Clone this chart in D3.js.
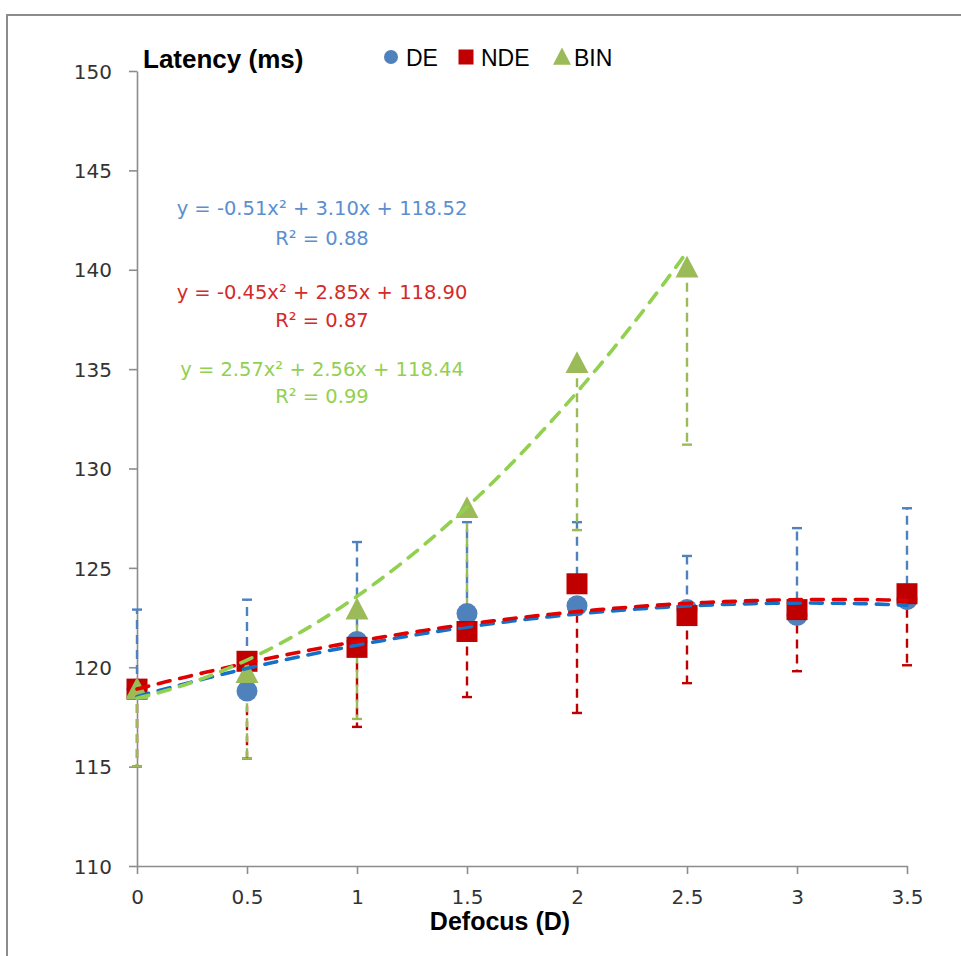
<!DOCTYPE html>
<html>
<head>
<meta charset="utf-8">
<script src="https://cdn.jsdelivr.net/npm/d3@7"></script>
<style>
  html, body { margin: 0; padding: 0; background: #fff; }
  svg { display: block; }
</style>
</head>
<body>
<svg id="chart" width="961" height="956"></svg>
<script>
// Defocus levels (D)
const defocus = [0, 0.5, 1, 1.5, 2, 2.5, 3, 3.5];

// Mean latency (ms) per condition
const deMean  = [118.9, 118.8, 121.3, 122.7, 123.1, 122.9, 122.6, 123.4];
const ndeMean = [118.9, 120.3, 121.0, 121.8, 124.2, 122.6, 122.9, 123.7];
const binMean = [118.9, 119.7, 122.9, 128.0, 135.3, 140.1];

// One-sided error bars (ms): DE upward, NDE and BIN downward
const deErr  = [4.0, 4.6, 5.0, 4.6, 4.2, 2.7, 4.4, 4.6];
const ndeErr = [3.9, 4.9, 4.0, 3.3, 6.5, 3.4, 3.1, 3.6];
const binErr = [3.9, 4.3, 5.5, 5.7, 8.4, 8.9];

// Quadratic fits: [a, b, c] for y = a x^2 + b x + c, and R^2
const deFit  = [-0.51, 3.10, 118.52];
const ndeFit = [-0.45, 2.85, 118.90];
const binFit = [2.57, 2.56, 118.44];
const rSquared = [0.88, 0.87, 0.99];

const seriesNames = ["DE", "NDE", "BIN"];
const yTicks = [110, 115, 120, 125, 130, 135, 140, 145, 150];
const xTicks = [0, 0.5, 1, 1.5, 2, 2.5, 3, 3.5];

const svg = d3.select("#chart");

// outer chart frame
svg.append("rect")
  .attr("x", 7).attr("y", 15)
  .attr("width", 1000).attr("height", 1000)
  .attr("fill", "none").attr("stroke", "#8c8c8c").attr("stroke-width", 2);

const x = d3.scaleLinear().domain([0, 3.5]).range([137, 907]);
const y = d3.scaleLinear().domain([110, 150]).range([866, 71]);

const tickFont = "'DejaVu Sans', sans-serif";

// y axis
const gy = svg.append("g")
  .attr("transform", "translate(137,0)")
  .call(d3.axisLeft(y).tickValues(yTicks).tickSize(8).tickSizeOuter(0).tickPadding(17).tickFormat(d => String(d)));
gy.select(".domain").attr("stroke", "#8c8c8c").attr("stroke-width", 1.6);
gy.selectAll(".tick line").attr("stroke", "#8c8c8c").attr("stroke-width", 1.6);
gy.selectAll(".tick text")
  .attr("font-family", tickFont).attr("font-size", 20).attr("fill", "#333")
  .attr("dy", "0.36em");

// x axis
const gx = svg.append("g")
  .attr("transform", "translate(0,866)")
  .call(d3.axisBottom(x).tickValues(xTicks).tickSize(8).tickSizeOuter(0).tickFormat(d => String(d)));
gx.select(".domain").attr("stroke", "#8c8c8c").attr("stroke-width", 1.6);
gx.selectAll(".tick line").attr("stroke", "#8c8c8c").attr("stroke-width", 1.6);
gx.selectAll(".tick text")
  .attr("font-family", tickFont).attr("font-size", 20).attr("fill", "#333")
  .attr("y", 38).attr("dy", 0);

// axis titles
svg.append("text")
  .attr("x", 143).attr("y", 68)
  .attr("font-family", "'Liberation Sans', Arial, sans-serif")
  .attr("font-weight", "bold").attr("font-size", 26)
  .attr("fill", "#000")
  .text("Latency (ms)");

svg.append("text")
  .attr("x", 500).attr("y", 930)
  .attr("text-anchor", "middle")
  .attr("font-family", "'Liberation Sans', Arial, sans-serif")
  .attr("font-weight", "bold").attr("font-size", 25)
  .attr("fill", "#000")
  .text("Defocus (D)");

// series definitions
const series = [
  { name: seriesNames[0], mean: deMean, err: deErr, dir: 1, fit: deFit, r2: rSquared[0],
    marker: "#4F81BD", bar: "#4F81BD", trend: "#1570C8", label: "#5B8FD0", shape: "circle" },
  { name: seriesNames[1], mean: ndeMean, err: ndeErr, dir: -1, fit: ndeFit, r2: rSquared[1],
    marker: "#C00000", bar: "#C00000", trend: "#E00000", label: "#D42A2A", shape: "square" },
  { name: seriesNames[2], mean: binMean, err: binErr, dir: -1, fit: binFit, r2: rSquared[2],
    marker: "#9BBB59", bar: "#9BBB59", trend: "#92D050", label: "#92D050", shape: "triangle" }
];

series.forEach(s => {
  s.points = s.mean.map((v, i) => ({ x: defocus[i], y: v, e: s.err[i] }));
});

// error bars
const gErr = svg.append("g");
series.forEach(s => {
  const g = gErr.append("g");
  g.selectAll("line.bar").data(s.points).join("line")
    .attr("class", "bar")
    .attr("x1", d => x(d.x)).attr("x2", d => x(d.x))
    .attr("y1", d => y(d.y)).attr("y2", d => y(d.y + s.dir * d.e))
    .attr("stroke", s.bar).attr("stroke-width", 2.4)
    .attr("stroke-dasharray", "9,6");
  g.selectAll("line.cap").data(s.points).join("line")
    .attr("class", "cap")
    .attr("x1", d => x(d.x) - 5).attr("x2", d => x(d.x) + 5)
    .attr("y1", d => y(d.y + s.dir * d.e)).attr("y2", d => y(d.y + s.dir * d.e))
    .attr("stroke", s.bar).attr("stroke-width", 2.4);
});

// markers
function drawMarker(g, shape, color, cx, cy, size) {
  if (shape === "circle") {
    g.append("circle").attr("cx", cx).attr("cy", cy).attr("r", size / 2).attr("fill", color);
  } else if (shape === "square") {
    g.append("rect").attr("x", cx - size / 2).attr("y", cy - size / 2)
      .attr("width", size).attr("height", size).attr("fill", color);
  } else {
    const h = size * 0.95;
    g.append("path")
      .attr("d", `M${cx},${cy - h * 0.55} L${cx + size / 2},${cy + h * 0.45} L${cx - size / 2},${cy + h * 0.45} Z`)
      .attr("fill", color);
  }
}

const gMarks = svg.append("g");
series.forEach(s => {
  const size = s.shape === "circle" ? 21 : (s.shape === "square" ? 21 : 23);
  s.points.forEach(p => drawMarker(gMarks, s.shape, s.marker, x(p.x), y(p.y), size));
});

// fitted trend curves
const gTrend = svg.append("g");
series.forEach(s => {
  const xmax = d3.max(s.points, p => p.x);
  const xs = d3.range(0, xmax + 1e-9, xmax / 80);
  const f = v => s.fit[0] * v * v + s.fit[1] * v + s.fit[2];
  gTrend.append("path")
    .datum(xs)
    .attr("d", d3.line().x(v => x(v)).y(v => y(f(v))))
    .attr("fill", "none")
    .attr("stroke", s.trend).attr("stroke-width", 3.6)
    .attr("stroke-linecap", "round")
    .attr("stroke-dasharray", "12,10");
});

// fit equations (plain hyphen for negative coefficients)
const fmt = v => d3.format(".2f")(v).replace("\u2212", "-");
const eqBase = [215, 299, 376];
const r2Base = [245, 327, 403];
series.forEach((s, i) => {
  const a = s.fit[0], b = s.fit[1], c = s.fit[2];
  const eq = `y = ${fmt(a)}x\u00B2 + ${fmt(b)}x + ${fmt(c)}`;
  svg.append("text")
    .attr("x", 322).attr("y", eqBase[i])
    .attr("text-anchor", "middle")
    .attr("font-family", tickFont).attr("font-size", 19.5)
    .attr("fill", s.label)
    .text(eq);
  svg.append("text")
    .attr("x", 322).attr("y", r2Base[i])
    .attr("text-anchor", "middle")
    .attr("font-family", tickFont).attr("font-size", 19.5)
    .attr("fill", s.label)
    .text(`R\u00B2 = ${fmt(s.r2)}`);
});

// legend
const legendX = [391, 466, 562];
const legendTextX = [406, 481, 574];
const gLeg = svg.append("g");
series.forEach((s, i) => {
  const size = s.shape === "circle" ? 14 : (s.shape === "square" ? 15 : 18);
  drawMarker(gLeg, s.shape, s.marker, legendX[i], 57, size);
  gLeg.append("text")
    .attr("x", legendTextX[i]).attr("y", 66)
    .attr("font-family", "'Liberation Sans', Arial, sans-serif")
    .attr("font-size", 23).attr("fill", "#000")
    .text(s.name);
});
</script>
</body>
</html>
